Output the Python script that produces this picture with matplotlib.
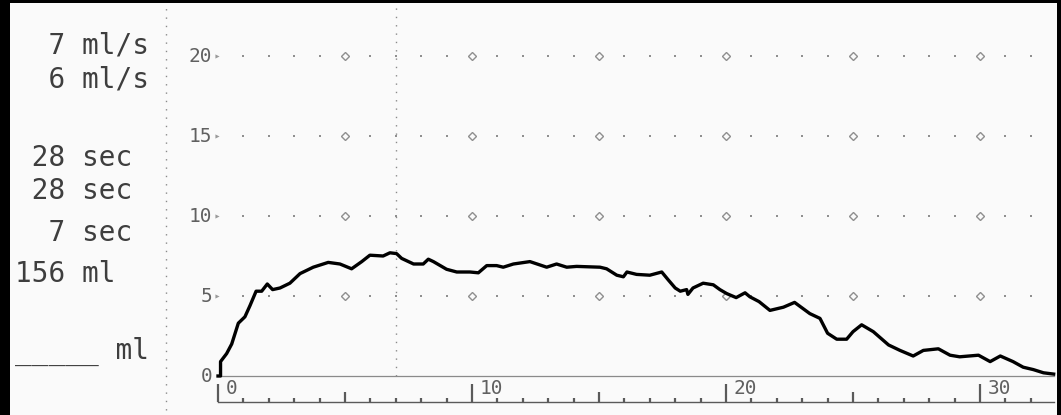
import matplotlib
matplotlib.use("Agg")
import matplotlib.pyplot as plt
from matplotlib.patches import Rectangle

# Uroflow record: flow rate (ml/s) over voiding time (s)
time_s = [0.0, 0.1, 0.1, 0.34, 0.54, 0.8, 1.06, 1.26, 1.5, 1.72, 1.94, 2.15, 2.44,
          2.83, 3.23, 3.75, 4.34, 4.8, 5.26, 5.66, 5.98, 6.5, 6.77, 7.03, 7.23,
          7.7, 8.08, 8.28, 8.48, 9.0, 9.4, 9.92, 10.25, 10.58, 10.97, 11.23,
          11.63, 12.28, 12.94, 13.33, 13.73, 14.12, 15.04, 15.3, 15.7, 15.96,
          16.1, 16.48, 17.0, 17.47, 17.73, 18.0, 18.2, 18.45, 18.5, 18.7, 19.1,
          19.5, 19.76, 20.03, 20.4, 20.75, 20.94, 21.3, 21.73, 22.26, 22.7,
          23.3, 23.7, 24.0, 24.36, 24.75, 25.0, 25.34, 25.8, 26.4, 26.85,
          27.37, 27.77, 28.36, 28.82, 29.2, 29.94, 30.4, 30.8, 31.3, 31.7,
          32.1, 32.5, 32.9]
flow_mls = [0.0, 0.0, 0.9, 1.4, 2.0, 3.3, 3.7, 4.4, 5.3, 5.3, 5.75, 5.4, 5.5,
            5.8, 6.4, 6.8, 7.1, 7.0, 6.7, 7.15, 7.55, 7.5, 7.7, 7.65, 7.35,
            7.0, 7.0, 7.3, 7.15, 6.67, 6.5, 6.5, 6.45, 6.9, 6.9, 6.8,
            7.0, 7.15, 6.8, 7.0, 6.8, 6.85, 6.8, 6.7, 6.3, 6.2,
            6.5, 6.35, 6.3, 6.5, 6.0, 5.5, 5.3, 5.4, 5.1, 5.5, 5.8,
            5.7, 5.4, 5.15, 4.9, 5.2, 4.95, 4.65, 4.1, 4.3, 4.6,
            3.9, 3.6, 2.67, 2.3, 2.3, 2.77, 3.2, 2.77, 1.94, 1.6,
            1.25, 1.6, 1.7, 1.3, 1.2, 1.3, 0.9, 1.25, 0.9, 0.55,
            0.4, 0.2, 0.12]

# summary panel (max flow, avg flow, flow time, voiding time, time to max, volume)
summary_lines = ["  7 ml/s", "  6 ml/s", " 28 sec", " 28 sec", "  7 sec", "156 ml", "_____ ml"]
summary_baselines_px = [54, 88, 166, 199, 241, 282, 359]

y_ticks = [0, 5, 10, 15, 20]
x_ticks = [0, 10, 20, 30]
time_to_max = 7
t_end = 32

W, H = 1061, 415
X0_PX, PX_PER_S = 218, 25.4
Y0_PX, PX_PER_ML = 376, 16.0


def px_y(py):
    return (Y0_PX - py) / PX_PER_ML


def px_x(px):
    return (px - X0_PX) / PX_PER_S


fig = plt.figure(figsize=(W / 100, H / 100), dpi=100, facecolor="black")
fig.patches.append(Rectangle((10 / W, 0), (1057 - 10) / W, (H - 3) / H,
                             transform=fig.transFigure, facecolor="#fafafa",
                             edgecolor="none", zorder=-10))
ax = fig.add_axes([0, 0, 1, 1])
ax.set_zorder(1)
ax.set_facecolor("none")
ax.set_xlim(px_x(0), px_x(W))
ax.set_ylim(px_y(H), px_y(0))
ax.axis("off")

GRAY = "#8a8a8a"
TICK = "#5a5a5a"
LABEL = "#606060"

# dotted grid rows: small dots each second, diamonds each 5 s
for yv in y_ticks[1:]:
    dots = [t for t in range(1, t_end + 1) if t % 5]
    marks = [t for t in range(5, t_end + 1, 5)]
    ax.plot(dots, [yv] * len(dots), ls="none", marker="s", ms=1.7,
            color="#8f8f8f", mew=0)
    ax.plot(marks, [yv] * len(marks), ls="none", marker="D", ms=4.2,
            mfc="none", mec="#8f8f8f", mew=1.0)

# y labels with small arrow heads
for yv in y_ticks:
    ax.text(px_x(212), yv, str(yv), ha="right", va="center", color=LABEL,
            fontsize=14, family="DejaVu Sans Mono")
    if yv:
        ax.plot(px_x(217), yv, marker=">", ms=3, color="#9a9a9a", mew=0)

# baseline
ax.plot([0, max(time_s)], [0, 0], color=GRAY, lw=0.9)

# time scale ruler under the trace
ruler_bottom = px_y(402)
ax.plot([0, max(time_s)], [ruler_bottom, ruler_bottom], color=TICK, lw=1.0)
for t in range(0, t_end + 1):
    if t % 10 == 0:
        top = px_y(384)
    elif t % 5 == 0:
        top = px_y(392)
    else:
        top = px_y(398)
    ax.plot([t, t], [ruler_bottom, top], color=TICK, lw=1.6,
            solid_capstyle="butt")
for t in x_ticks:
    ax.text(t + 0.3, px_y(388), str(t), ha="left", va="center",
            color=LABEL, fontsize=14, family="DejaVu Sans Mono")

# time to max flow marker and panel separator
ax.plot([time_to_max, time_to_max], [0, px_y(3)], color="#8a8a8a", lw=1.0,
        ls=(0, (1, 5)))
ax.plot([px_x(166), px_x(166)], [px_y(410), px_y(3)], color="#8a8a8a", lw=1.0,
        ls=(0, (1, 5)))

# flow trace
ax.plot(time_s, flow_mls, color="black", lw=2.4, solid_joinstyle="round")

# summary values
for line, by in zip(summary_lines, summary_baselines_px):
    fig.text(15 / W, 1 - by / H, line, ha="left", va="baseline",
             color="#3e3e3e", fontsize=20, family="DejaVu Sans Mono")

fig.savefig("out.png", dpi=100, facecolor=fig.get_facecolor())
